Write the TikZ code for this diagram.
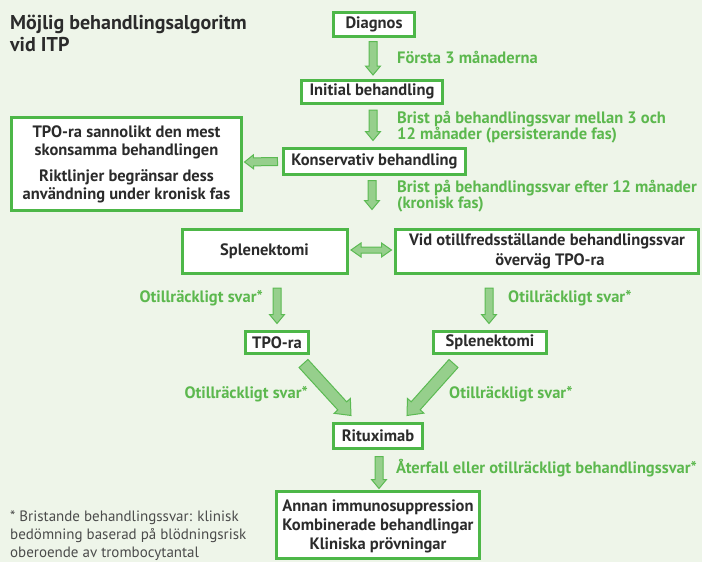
\documentclass[tikz,border=0pt]{standalone}
\usepackage{fontspec}
\setmainfont{PT Sans}
\usetikzlibrary{calc}

\definecolor{bgc}{HTML}{EEF5E9}
\definecolor{boxgreen}{HTML}{4DB748}
\definecolor{arrfill}{HTML}{96CF8C}
\definecolor{arrline}{HTML}{5BBA52}
\definecolor{labgreen}{HTML}{5CB84E}
\definecolor{txt}{HTML}{2B2B2B}

\tikzset{
  stepbox/.style={draw=boxgreen, line width=3pt, fill=white, text=txt,
    font=\bfseries\fontsize{16.5}{18}\selectfont, align=center,
    inner sep=0pt, outer sep=0pt},
  arrowbody/.style={fill=arrfill, draw=arrline, line width=1pt, line join=miter},
  steplabel/.style={text=labgreen, font=\bfseries\fontsize{16.5}{16.5}\selectfont,
    align=left, inner sep=0pt},
}

% single block arrow: from, to, half shaft width, half head width, head length
\newcommand\blockarr[5]{%
  \coordinate (bh) at ($(#2)!#5!(#1)$);
  \filldraw[arrowbody] ($(#1)!#3!90:(#2)$) -- ($(bh)!#3!-90:(#1)$)
    -- ($(bh)!#4!-90:(#1)$) -- (#2) -- ($(bh)!#4!90:(#1)$)
    -- ($(bh)!#3!90:(#1)$) -- ($(#1)!#3!-90:(#2)$) -- cycle;}

% double-headed block arrow
\newcommand\dblarr[5]{%
  \coordinate (ha) at ($(#1)!#5!(#2)$);
  \coordinate (hb) at ($(#2)!#5!(#1)$);
  \filldraw[arrowbody] (#1) -- ($(ha)!#4!90:(#2)$) -- ($(ha)!#3!90:(#2)$)
    -- ($(hb)!#3!-90:(#1)$) -- ($(hb)!#4!-90:(#1)$) -- (#2)
    -- ($(hb)!#4!90:(#1)$) -- ($(hb)!#3!90:(#1)$)
    -- ($(ha)!#3!-90:(#2)$) -- ($(ha)!#4!-90:(#2)$) -- cycle;}

\begin{document}
\begin{tikzpicture}[x=1pt, y=-1pt]
\fill[bgc] (0,0) rectangle (702,562);
\useasboundingbox (0,0) rectangle (702,562);

% title
\node[anchor=north west, align=left, text=txt, inner sep=0pt,
  font=\bfseries\fontsize{20}{22}\selectfont] (title) at (10,15)
  {Möjlig behandlingsalgoritm\\vid ITP};

% boxes
\node[stepbox, minimum width=81pt, minimum height=24pt] (diag) at (374,24.5) {Diagnos};
\node[stepbox, minimum width=141pt, minimum height=23pt] (init) at (372,91.5) {Initial behandling};
\node[stepbox, minimum width=182pt, minimum height=26pt] (kons) at (374.5,161.5) {Konservativ behandling};
\node[stepbox, minimum width=230pt, minimum height=93pt,
  text depth=2pt] (tpoinfo) at (126.5,164)
  {TPO-ra sannolikt den mest\\skonsamma behandlingen\\[8pt]Riktlinjer begränsar dess\\användning under kronisk fas};
\node[stepbox, minimum width=165pt, minimum height=44pt] (splenA) at (264.5,251) {Splenektomi};
\node[stepbox, minimum width=303pt, minimum height=44pt,
  font=\bfseries\fontsize{16.5}{20}\selectfont] (vid) at (547,251)
  {Vid otillfredsställande behandlingssvar\\\hspace*{6pt}överväg TPO-ra};
\node[stepbox, minimum width=63pt, minimum height=22pt] (tpoB) at (277,342.5) {TPO-ra};
\node[stepbox, minimum width=113pt, minimum height=22pt] (splenB) at (490,342.5) {Splenektomi};
\node[stepbox, minimum width=89pt, minimum height=25pt] (ritux) at (378,436) {Rituximab};
\node[stepbox, minimum width=203pt, minimum height=67pt,
  font=\bfseries\fontsize{16.5}{19}\selectfont] (final) at (378,525)
  {\rule{0pt}{15pt}Annan immunosuppression\\Kombinerade behandlingar\\Kliniska prövningar};

% arrow end points
\coordinate (a1s) at ($(diag.south)+(-1,5)$);
\coordinate (a1e) at ($(init.north)+(1,-5)$);
\coordinate (a2s) at ($(init.south)+(1,7)$);
\coordinate (a2e) at ($(kons.north)+(-1.5,-8)$);
\coordinate (a3s) at ($(kons.south)+(-2.5,6)$);
\coordinate (a3e) at ($(kons.south)+(-2.5,35)$);
\coordinate (l1s) at ($(kons.west)+(-6,0)$);
\coordinate (l1e) at ($(tpoinfo.east)+(3,-2)$);
\coordinate (d1s) at ($(splenA.east)+(4,-1)$);
\coordinate (d1e) at ($(vid.west)+(-4,-1)$);
\coordinate (a4s) at ($(splenA.south)+(12.5,15)$);
\coordinate (a4e) at ($(tpoB.north)+(0,-8)$);
\coordinate (a5s) at ($(vid.south)+(-58,15)$);
\coordinate (a5e) at ($(splenB.north)+(-1,-8)$);
\coordinate (g1s) at ($(tpoB.south east)+(-5,10)$);
\coordinate (g1e) at ($(ritux.north)+(-27,-8)$);
\coordinate (g2s) at ($(splenB.south west)+(20,10)$);
\coordinate (g2e) at ($(ritux.north)+(29,-8)$);
\coordinate (a6s) at ($(ritux.south)+(1,8)$);
\coordinate (a6e) at ($(final.north)+(1,-3)$);

% connectors
\blockarr{a1s}{a1e}{4pt}{7.5pt}{9pt}
\blockarr{a2s}{a2e}{4pt}{7.5pt}{9pt}
\blockarr{a3s}{a3e}{4pt}{7.5pt}{9pt}
\blockarr{l1s}{l1e}{4pt}{7pt}{9pt}
\dblarr{d1s}{d1e}{3pt}{7pt}{10pt}
\blockarr{a4s}{a4e}{4pt}{7.5pt}{9pt}
\blockarr{a5s}{a5e}{4pt}{7.5pt}{9pt}
\blockarr{g1s}{g1e}{6pt}{11pt}{13pt}
\blockarr{g2s}{g2e}{6pt}{11pt}{13pt}
\blockarr{a6s}{a6e}{4pt}{7.5pt}{9pt}

% connector labels
\node[steplabel, anchor=west] (l1) at (397,57) {Första 3 månaderna};
\node[steplabel, anchor=north west] (l2) at (397,111)
  {Brist på behandlingssvar mellan 3 och\\12 månader (persisterande fas)};
\node[steplabel, anchor=north west] (l3) at (397,180)
  {Brist på behandlingssvar efter 12 månader\\(kronisk fas)};
\node[steplabel, anchor=east] (l4) at (263,298) {Otillräckligt svar*};
\node[steplabel, anchor=west] (l5) at (508,298) {Otillräckligt svar*};
\node[steplabel, anchor=east] (l6) at (308,394) {Otillräckligt svar*};
\node[steplabel, anchor=west] (l7) at (449,394) {Otillräckligt svar*};
\node[steplabel, anchor=west] (l8) at (396,468) {Återfall eller otillräckligt behandlingssvar*};

% footnote
\node[anchor=north west, align=left, text=txt!85, inner sep=0pt,
  font=\fontsize{15}{18}\selectfont] (foot) at (10,511)
  {* Bristande behandlingssvar: klinisk\\bedömning baserad på blödningsrisk\\oberoende av trombocytantal};
\end{tikzpicture}
\end{document}
